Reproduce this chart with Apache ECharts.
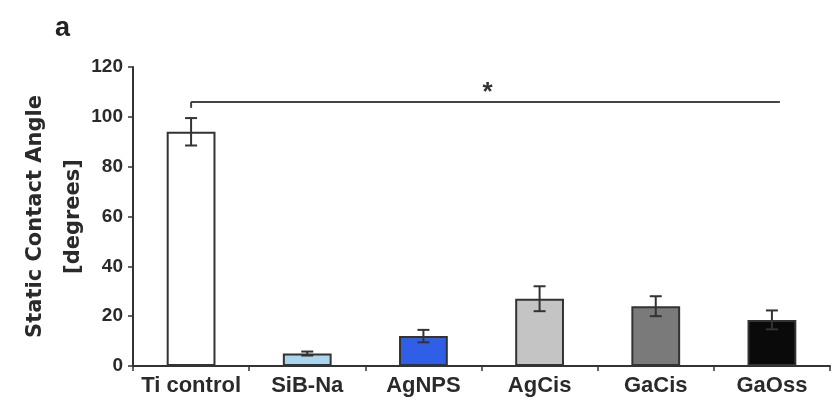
<!DOCTYPE html>
<html>
<head>
<meta charset="utf-8">
<script src="https://cdn.jsdelivr.net/npm/echarts@6/dist/echarts.min.js"></script>
<style>
html,body{margin:0;padding:0;background:#fff;}
#chart{width:835px;height:409px;}
</style>
</head>
<body>
<div id="chart"></div>
<script>
// Static contact angle per surface treatment
const categories = ['Ti control', 'SiB-Na', 'AgNPS', 'AgCis', 'GaCis', 'GaOss'];
const meanValues = [94, 5, 12, 27, 24, 18.5];
const errValues = [5.5, 0.8, 2.5, 5, 4, 3.8];
const barColors = ['#ffffff', '#a9d6ee', '#2f5fe6', '#c4c4c4', '#7a7a7a', '#0a0a0a'];
const yTicks = [0, 20, 40, 60, 80, 100, 120];
// significance bracket: from first to last group, at this height
const sigFrom = 0, sigTo = 5, sigLevel = 106, sigLabel = '*';

const chart = echarts.init(document.getElementById('chart'));
const font = 'Liberation Sans, Arial, sans-serif';

chart.setOption({
  animation: false,
  grid: { left: 133, right: 5, top: 67, bottom: 43, containLabel: false, outerBoundsMode: 'none' },
  graphic: [
    { type: 'text', left: 55, top: 15, style: { text: 'a', font: 'bold 27px ' + font, fill: '#222' } }
  ],
  xAxis: {
    type: 'category',
    data: categories,
    axisLine: { lineStyle: { color: '#333', width: 2 } },
    axisTick: { show: true, interval: 0, length: 5, lineStyle: { color: '#333', width: 1.5 } },
    axisLabel: { interval: 0, color: '#2a2a2a', fontWeight: 'bold', fontSize: 22, fontFamily: font, margin: 9 }
  },
  yAxis: {
    type: 'value',
    min: 0, max: 120, interval: 20,
    name: 'Static Contact Angle\n[degrees]',
    nameLocation: 'middle',
    nameGap: 40,
    nameMoveOverlap: false,
    nameTextStyle: { color: '#2a2a2a', fontWeight: 'bold', fontSize: 21, fontFamily: 'DejaVu Sans, sans-serif', lineHeight: 38 },
    axisLine: { show: true, lineStyle: { color: '#333', width: 2 } },
    axisTick: { show: true, length: 5, lineStyle: { color: '#333', width: 1.5 } },
    axisLabel: { color: '#2a2a2a', fontWeight: 'bold', fontSize: 19, fontFamily: font, margin: 10,
      formatter: v => yTicks.includes(v) ? String(v) : '' },
    splitLine: { show: false }
  },
  series: [
    {
      type: 'bar',
      barWidth: '42%',
      data: meanValues.map((v, i) => ({
        value: v,
        itemStyle: { color: barColors[i], borderColor: '#333', borderWidth: 2 }
      }))
    },
    {
      type: 'custom',
      z: 5,
      data: meanValues.map((v, i) => [i, v, errValues[i]]),
      renderItem: function (params, api) {
        const x = api.value(0), m = api.value(1), e = api.value(2);
        const top = api.coord([x, m + e]);
        const bot = api.coord([x, m - e]);
        const hw = 6;
        const style = { stroke: '#333', lineWidth: 2 };
        return {
          type: 'group',
          children: [
            { type: 'line', shape: { x1: top[0], y1: top[1], x2: bot[0], y2: bot[1] }, style },
            { type: 'line', shape: { x1: top[0] - hw, y1: top[1], x2: top[0] + hw, y2: top[1] }, style },
            { type: 'line', shape: { x1: bot[0] - hw, y1: bot[1], x2: bot[0] + hw, y2: bot[1] }, style }
          ]
        };
      }
    },
    {
      type: 'custom',
      z: 5,
      data: [[sigFrom, sigTo, sigLevel]],
      renderItem: function (params, api) {
        const a = api.coord([api.value(0), api.value(2)]);
        const b = api.coord([api.value(1), api.value(2)]);
        const style = { stroke: '#444', lineWidth: 2 };
        return {
          type: 'group',
          children: [
            { type: 'line', shape: { x1: a[0], y1: a[1] + 6, x2: a[0], y2: a[1] }, style },
            { type: 'line', shape: { x1: a[0], y1: a[1], x2: b[0] + 8, y2: b[1] }, style },
            { type: 'text', x: (a[0] + b[0]) / 2 + 6, y: a[1] + 4,
              style: { text: sigLabel, font: 'bold 26px ' + font, fill: '#333', align: 'center', verticalAlign: 'bottom' } }
          ]
        };
      }
    }
  ]
});
</script>
</body>
</html>
